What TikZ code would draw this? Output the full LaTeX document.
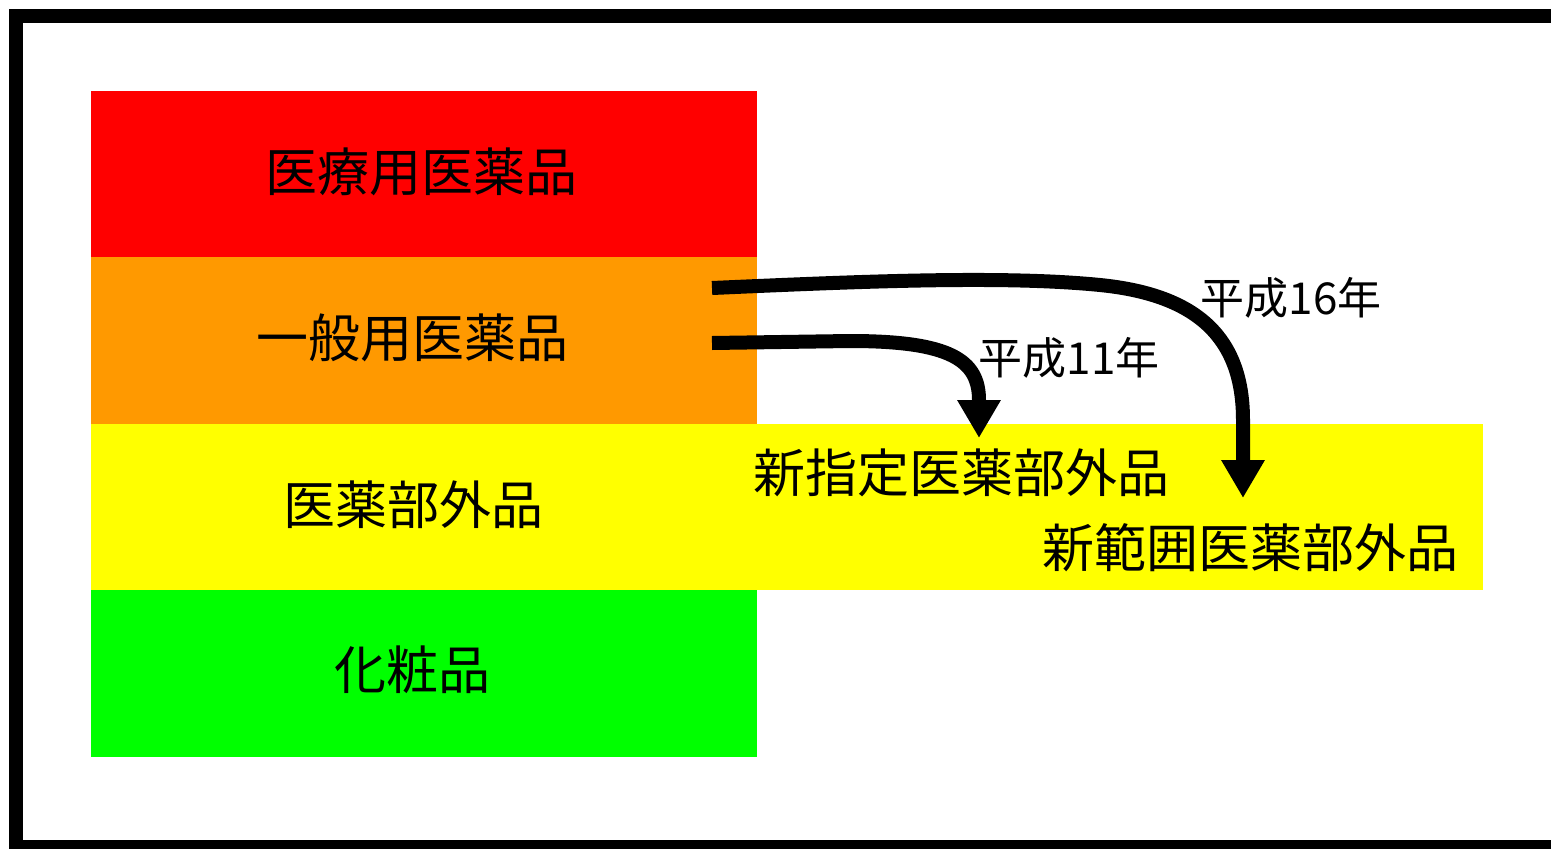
\documentclass[tikz,border=0pt]{standalone}
\usepackage{fontspec}
\newfontfamily\jp{Noto Sans CJK JP}
\usetikzlibrary{arrows.meta}
\definecolor{cred}{HTML}{FF0000}
\definecolor{corng}{HTML}{FF9900}
\definecolor{cyell}{HTML}{FFFF00}
\definecolor{cgreen}{HTML}{00FF00}
\tikzset{
  big/.style={font=\jp\fontsize{52}{58}\selectfont, inner sep=0pt},
  year/.style={font=\jp\fontsize{44}{50}\selectfont, inner sep=0pt},
  flow/.style={line width=14pt, -{Triangle[length=38pt,width=41pt]}}
}
\begin{document}
\begin{tikzpicture}[x=1pt,y=-1pt]
\useasboundingbox (0,0) rectangle (1551,849);
\clip (0,0) rectangle (1551,849);
\fill[white] (0,0) rectangle (1551,849);
\draw[line width=14pt] (16,16) rectangle (1580,847);
% bands
\fill[cred] (91,91) rectangle (757,257);
\fill[corng] (91,257) rectangle (757,424);
\fill[cyell] (91,424) rectangle (1483,590);
\fill[cgreen] (91,590) rectangle (757,757);
% labels
\node[big] (iryo) at (421,172) {医療用医薬品};
\node[big] (ippan) at (412,338) {一般用医薬品};
\node[big] (ibu) at (413,505) {医薬部外品};
\node[big] (kesho) at (412,670) {化粧品};
\node[big] (shitei) at (961,473) {新指定医薬部外品};
\node[big] (hani) at (1250,548) {新範囲医薬部外品};
\node[year] (h11) at (1069,358) {平成11年};
\node[year] (h16) at (1291,298) {平成16年};
% arrows
\coordinate (s16) at (712,288);
\coordinate (s11) at (712,343);
\coordinate (e16) at (1243,498);
\coordinate (e11) at (979,438);
\draw[flow] (s16) .. controls (850,282) and (1000,275) .. (1100,285)
  .. controls (1200,295) and (1243,340) .. (1243,420) -- (e16);
\draw[flow] (s11) -- (850,341) .. controls (950,341) and (979,360) .. (979,400) -- (e11);
\end{tikzpicture}
\end{document}
